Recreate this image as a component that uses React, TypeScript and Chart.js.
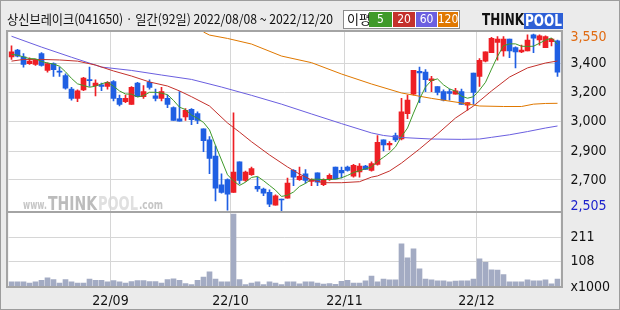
import React, { useEffect, useRef } from 'react';
import { Chart, registerables } from 'chart.js';

Chart.register(...registerables);

// ---- header ----
const titleText = '상신브레이크(041650) · 일간(92일) 2022/08/08 ~ 2022/12/20';
const maLegendTitle = '이평';
const maPeriods = ['5', '20', '60', '120'];

// ---- daily candles (2022/08/08 ~ 2022/12/20, 92 trading days) ----
const opens = [
  3415, 3455, 3415, 3375, 3370, 3435, 3335, 3375, 3330, 3305,
  3225, 3170, 3220, 3280, 3245, 3250, 3240, 3270, 3170, 3150,
  3135, 3260, 3180, 3265, 3185, 3170, 3170, 3115, 3050, 3060,
  3105, 3080, 2990, 2925, 2830, 2660, 2690, 2615, 2795, 2685,
  2720, 2650, 2635, 2615, 2540, 2575, 2580, 2745, 2690, 2725,
  2680, 2730, 2660, 2690, 2765, 2745, 2765, 2710, 2735, 2770,
  2745, 2780, 2925, 2895, 2950, 2930, 3080, 3195, 3330, 3325,
  3275, 3240, 3210, 3210, 3195, 3210, 3130, 3320, 3300, 3390,
  3440, 3500, 3450, 3520, 3470, 3445, 3450, 3545, 3515, 3470,
  3505, 3510,
];
const highs = [
  3480, 3460, 3435, 3410, 3400, 3440, 3380, 3380, 3355, 3315,
  3235, 3220, 3295, 3355, 3280, 3260, 3270, 3275, 3190, 3190,
  3240, 3265, 3245, 3280, 3225, 3235, 3190, 3120, 3210, 3110,
  3110, 3090, 2990, 2945, 2890, 2725, 2695, 3085, 2795, 2740,
  2765, 2705, 2640, 2630, 2600, 2575, 2700, 2750, 2765, 2750,
  2695, 2730, 2695, 2725, 2765, 2765, 2770, 2780, 2785, 2775,
  2795, 2950, 2925, 2915, 2965, 3170, 3190, 3335, 3355, 3340,
  3300, 3240, 3220, 3225, 3230, 3225, 3145, 3320, 3405, 3445,
  3530, 3535, 3535, 3520, 3475, 3485, 3545, 3550, 3545, 3540,
  3525, 3515,
];
const lows = [
  3400, 3415, 3355, 3370, 3365, 3360, 3325, 3300, 3300, 3225,
  3160, 3150, 3215, 3240, 3185, 3215, 3225, 3155, 3125, 3145,
  3135, 3180, 3170, 3225, 3155, 3155, 3115, 3040, 3035, 3040,
  3015, 3020, 2855, 2725, 2565, 2610, 2510, 2615, 2665, 2680,
  2715, 2620, 2595, 2530, 2540, 2505, 2580, 2655, 2685, 2670,
  2655, 2655, 2655, 2685, 2695, 2700, 2740, 2705, 2705, 2750,
  2740, 2775, 2860, 2865, 2915, 2925, 3050, 3190, 3145, 3210,
  3210, 3190, 3155, 3160, 3195, 3135, 3100, 3135, 3240, 3385,
  3440, 3395, 3420, 3410, 3350, 3440, 3450, 3440, 3485, 3470,
  3480, 3300,
];
const closes = [
  3445, 3420, 3370, 3390, 3395, 3365, 3375, 3340, 3325, 3230,
  3170, 3215, 3290, 3275, 3260, 3240, 3265, 3170, 3135, 3170,
  3235, 3180, 3210, 3235, 3170, 3210, 3135, 3040, 3035, 3100,
  3045, 3040, 2920, 2815, 2640, 2615, 2605, 2735, 2685, 2735,
  2755, 2635, 2610, 2545, 2595, 2570, 2670, 2705, 2710, 2685,
  2690, 2675, 2690, 2715, 2695, 2730, 2745, 2775, 2770, 2750,
  2785, 2910, 2895, 2905, 2925, 3090, 3160, 3335, 3320, 3280,
  3285, 3205, 3160, 3200, 3215, 3135, 3145, 3205, 3395, 3445,
  3525, 3520, 3520, 3450, 3445, 3455, 3515, 3525, 3540, 3535,
  3520, 3325,
];
// volume, thousands of shares
const volumes = [
  22, 22, 22, 17, 22, 28, 39, 31, 17, 31,
  22, 17, 17, 34, 28, 28, 22, 27, 22, 17,
  23, 27, 27, 23, 23, 17, 31, 35, 28, 14,
  10, 28, 42, 64, 34, 22, 22, 308, 31, 10,
  17, 22, 10, 22, 17, 10, 22, 22, 13, 22,
  22, 17, 12, 14, 11, 24, 28, 17, 17, 26,
  46, 22, 33, 30, 30, 182, 123, 161, 77, 33,
  30, 26, 26, 22, 25, 26, 26, 33, 119, 104,
  73, 71, 52, 22, 22, 22, 30, 26, 26, 30,
  13, 33,
];

// ---- moving averages ----
const ma5 = [
  3430, 3425, 3415, 3405, 3404, 3388, 3379, 3373, 3360, 3327,
  3288, 3256, 3246, 3236, 3242, 3256, 3266, 3242, 3214, 3196,
  3195, 3178, 3186, 3206, 3206, 3201, 3192, 3158, 3118, 3104,
  3071, 3052, 3028, 2984, 2892, 2806, 2719, 2682, 2656, 2675,
  2703, 2709, 2684, 2656, 2628, 2591, 2598, 2617, 2650, 2668,
  2692, 2693, 2690, 2691, 2693, 2701, 2715, 2732, 2743, 2754,
  2765, 2798, 2822, 2849, 2884, 2945, 2995, 3083, 3166, 3237,
  3276, 3285, 3250, 3226, 3213, 3183, 3171, 3180, 3219, 3265,
  3343, 3418, 3481, 3492, 3492, 3478, 3477, 3478, 3496, 3514,
  3527, 3489,
];
const ma20Idx = [0, 2, 5, 8, 11, 14, 17, 20, 23, 26, 28, 30, 33, 36, 38, 40, 43, 46, 48, 50, 52, 55, 58, 60, 61, 63, 65, 68, 71, 74, 77, 80, 83, 86, 89, 91];
const ma20Val = [3390, 3400, 3400, 3397, 3390, 3367, 3332, 3302, 3267, 3243, 3214, 3180, 3125, 3025, 2971, 2914, 2836, 2765, 2723, 2688, 2672, 2672, 2678, 2705, 2712, 2741, 2788, 2871, 2960, 3054, 3125, 3214, 3296, 3350, 3379, 3391];
const ma60Idx = [0, 5, 10, 15, 20, 25, 30, 35, 40, 45, 50, 55, 60, 62, 65, 70, 75, 78, 80, 83, 86, 89, 91];
const ma60Val = [3537, 3473, 3413, 3355, 3335, 3308, 3282, 3237, 3188, 3136, 3078, 3021, 2966, 2951, 2939, 2930, 2928, 2930, 2940, 2955, 2974, 2995, 3007];
const ma120Idx = [32, 33, 36, 40, 45, 50, 55, 60, 65, 70, 75, 78, 82, 85, 87, 89, 91];
const ma120Val = [3562, 3544, 3524, 3491, 3420, 3381, 3314, 3255, 3202, 3170, 3143, 3125, 3122, 3122, 3136, 3140, 3141];

// ---- axes ----
const monthStartIdx = [17, 37, 56, 78];
const monthLabels = ['22/09', '22/10', '22/11', '22/12'];
const priceMin = 2499;
const priceMax = 3568;
const priceTickValues = [3531, 3377, 3206, 3036, 2859, 2688, 2530];
const priceTickLabels = ['3,550', '3,400', '3,200', '3,000', '2,900', '2,700', '2,505'];
const volMax = 317;
const volTickValues = [211, 108, 0];
const volTickLabels = ['211', '108', 'x1000'];

// ---- styles ----
const UP = '#ee1f25';
const DOWN = '#1f5fe3';
const MA_COLORS = ['#3f9a2a', '#c4312c', '#6b5fe0', '#e07800'];
const GRID = '#d6d6d6';
const FRAME = '#a4a4a4';
const VOL = '#a3abc3';
const AXIS_FONT = "'Liberation Sans Narrow', 'DejaVu Sans Condensed', 'Liberation Sans', sans-serif";
const KR_FONT = "'Noto Sans CJK KR', 'Noto Sans', sans-serif";

function fitText(ctx: CanvasRenderingContext2D, text: string, x: number, y: number, width: number) {
  const w = ctx.measureText(text).width;
  ctx.save();
  ctx.translate(x, y);
  ctx.scale(width / w, 1);
  ctx.fillText(text, 0, 0);
  ctx.restore();
}

export default function App() {
  const ref = useRef<HTMLCanvasElement>(null);

  useEffect(() => {
    document.body.style.margin = '0';
    const canvas = ref.current;
    if (!canvas) return;

    const labels = closes.map((_, i) => i);
    const candleColors = closes.map((c, i) => (c >= opens[i] ? UP : DOWN));
    const pairs = (idx: number[], val: number[]) => idx.map((x, k) => ({ x, y: val[k] }));
    const lastP = priceTickValues.length - 1;

    const decor = {
      id: 'decor',
      beforeDraw(chart: any) {
        const { ctx, chartArea: a } = chart;
        ctx.save();
        ctx.fillStyle = '#ebebeb';
        ctx.fillRect(0, 0, chart.width, chart.height);
        ctx.fillStyle = '#ffffff';
        ctx.fillRect(a.left, a.top, a.right - a.left, a.bottom - a.top);
        // watermark www.THINKPOOL.com
        const base = chart.scales.y.bottom - 3;
        ctx.textBaseline = 'alphabetic';
        ctx.font = "bold 12px 'DejaVu Sans', sans-serif";
        ctx.fillStyle = '#c6c6c6';
        fitText(ctx, 'www.', 23, base, 24);
        ctx.font = "bold 20px 'DejaVu Sans', sans-serif";
        ctx.fillStyle = '#bcbcbc';
        fitText(ctx, 'THINK', 48, base + 1, 49);
        ctx.fillStyle = '#e0e0e0';
        ctx.strokeStyle = '#cfcfcf';
        ctx.lineWidth = 1;
        fitText(ctx, 'POOL', 98, base + 1, 40);
        ctx.font = "bold 12px 'DejaVu Sans', sans-serif";
        ctx.fillStyle = '#c6c6c6';
        fitText(ctx, '.com', 139, base, 24);
        ctx.restore();
      },
      afterDraw(chart: any) {
        const { ctx, chartArea: a } = chart;
        const yv = chart.scales.yv;
        ctx.save();
        // frame
        ctx.strokeStyle = FRAME;
        ctx.lineWidth = 2;
        ctx.strokeRect(7, a.top, a.right + 1.5 - 7, a.bottom - a.top);
        ctx.beginPath();
        ctx.moveTo(7, yv.top);
        ctx.lineTo(a.right + 1.5, yv.top);
        ctx.stroke();
        // outer border
        ctx.lineWidth = 1;
        ctx.strokeStyle = '#9c9c9c';
        ctx.strokeRect(0.5, 0.5, chart.width - 1, chart.height - 1);

        // header title
        ctx.fillStyle = '#111111';
        ctx.textBaseline = 'middle';
        ctx.font = `13px ${KR_FONT}`;
        const tw = ctx.measureText(titleText).width;
        fitText(ctx, titleText, 7, 19, Math.min(tw, 326));

        // MA legend box
        ctx.fillStyle = '#ffffff';
        ctx.fillRect(343, 10, 116, 18);
        ctx.strokeStyle = '#8c8c8c';
        ctx.strokeRect(343.5, 10.5, 116, 18);
        ctx.fillStyle = '#111111';
        ctx.font = `13px ${KR_FONT}`;
        ctx.fillText(maLegendTitle, 347, 19.5);
        const boxX = [369, 393, 416, 438];
        const boxW = [23, 22, 21, 20];
        maPeriods.forEach((p, k) => {
          ctx.fillStyle = MA_COLORS[k];
          ctx.fillRect(boxX[k], 12, boxW[k], 15);
          ctx.fillStyle = '#ffffff';
          ctx.font = `12px ${AXIS_FONT}`;
          ctx.textAlign = 'center';
          ctx.fillText(p, boxX[k] + boxW[k] / 2, 20);
          ctx.textAlign = 'left';
        });

        // logo
        ctx.font = "bold 16px 'DejaVu Sans', sans-serif";
        ctx.fillStyle = '#111111';
        fitText(ctx, 'THINK', 482, 21, 42);
        ctx.fillStyle = '#2d5fd6';
        ctx.fillRect(524, 13, 39, 16);
        ctx.fillStyle = '#ffffff';
        fitText(ctx, 'POOL', 525, 21.5, 37);
        ctx.restore();
      },
    };

    const chart = new Chart(canvas, {
      type: 'bar',
      data: {
        labels,
        datasets: [
          ...[ma5, pairs(ma20Idx, ma20Val), pairs(ma60Idx, ma60Val), pairs(ma120Idx, ma120Val)].map((d, k) => ({
            type: 'line' as const,
            data: d as any,
            yAxisID: 'y',
            borderColor: MA_COLORS[k],
            borderWidth: 1,
            pointRadius: 0,
            spanGaps: true,
            tension: 0,
            order: 1,
          })),
          {
            type: 'bar' as const,
            data: opens.map((o, i) => [o, closes[i]]) as any,
            yAxisID: 'y',
            backgroundColor: candleColors,
            barThickness: 5,
            minBarLength: 1,
            grouped: false,
            order: 2,
          },
          {
            type: 'bar' as const,
            data: lows.map((l, i) => [l, highs[i]]) as any,
            yAxisID: 'y',
            backgroundColor: candleColors,
            barThickness: 1,
            grouped: false,
            order: 3,
          },
          {
            type: 'bar' as const,
            data: volumes,
            yAxisID: 'yv',
            backgroundColor: VOL,
            barThickness: 5,
            grouped: false,
            order: 4,
          },
        ],
      },
      options: {
        responsive: false,
        animation: false,
        events: [],
        layout: { padding: { left: 8.5, top: 31, right: 0, bottom: 0 } },
        plugins: { legend: { display: false }, tooltip: { enabled: false } },
        scales: {
          x: {
            type: 'category',
            offset: true,
            border: { display: false },
            grid: {
              offset: true,
              drawTicks: false,
              color: (c: any) => (monthStartIdx.includes(c.index) ? GRID : 'rgba(0,0,0,0)'),
            },
            ticks: {
              autoSkip: false,
              maxRotation: 0,
              padding: 6,
              labelOffset: -3,
              color: '#111111',
              font: { family: AXIS_FONT, size: 14 },
              callback: (_v: any, i: number) => {
                const k = monthStartIdx.indexOf(i);
                return k >= 0 ? monthLabels[k] : '';
              },
            },
            afterFit: (s: any) => { s.height = 23; },
          },
          y: {
            type: 'linear',
            position: 'right',
            stack: 'panels',
            stackWeight: 181,
            min: priceMin,
            max: priceMax,
            border: { display: false },
            grid: {
              drawTicks: false,
              color: (c: any) => (c.index === 0 || c.index === lastP ? 'rgba(0,0,0,0)' : GRID),
            },
            afterBuildTicks: (s: any) => { s.ticks = priceTickValues.map((v) => ({ value: v })); },
            ticks: {
              autoSkip: false,
              padding: 10,
              font: { family: AXIS_FONT, size: 14 },
              color: (c: any) => (c.index === 0 ? '#e06b12' : c.index === lastP ? '#1c22cc' : '#111111'),
              callback: (_v: any, i: number) => priceTickLabels[i],
            },
            afterFit: (s: any) => { s.width = 59.5; },
          },
          yv: {
            type: 'linear',
            position: 'right',
            stack: 'panels',
            stackWeight: 75,
            min: 0,
            max: volMax,
            border: { display: false },
            grid: {
              drawTicks: false,
              color: (c: any) => (c.index === volTickValues.length - 1 ? 'rgba(0,0,0,0)' : GRID),
            },
            afterBuildTicks: (s: any) => { s.ticks = volTickValues.map((v) => ({ value: v })); },
            ticks: {
              autoSkip: false,
              padding: 10,
              font: { family: AXIS_FONT, size: 14 },
              color: '#111111',
              callback: (_v: any, i: number) => volTickLabels[i],
            },
            afterFit: (s: any) => { s.width = 59.5; },
          },
        },
      } as any,
      plugins: [decor],
    });

    return () => chart.destroy();
  }, []);

  return (
    <canvas
      ref={ref}
      width={620}
      height={310}
      style={{ display: 'block', width: 620, height: 310 }}
    />
  );
}
